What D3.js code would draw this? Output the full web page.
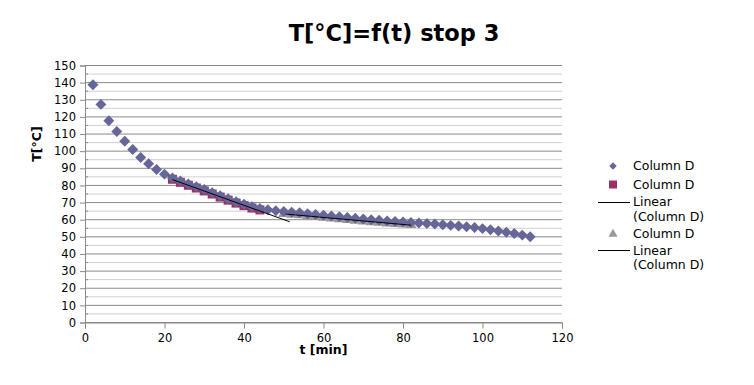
<!DOCTYPE html>
<html>
<head>
<meta charset="utf-8">
<script src="https://cdn.jsdelivr.net/npm/d3@7"></script>
<style>
  body { margin: 0; background: #fff; }
  text { font-family: "DejaVu Sans", sans-serif; fill: #000; }
</style>
</head>
<body>
<script>
// series 1: all readings (diamonds)
var timeD = [2,4,6,8,10,12,14,16,18,20,22,24,26,28,30,32,34,36,38,40,42,44,46,48,50,52,54,56,58,60,62,64,66,68,70,72,74,76,78,80,82,84,86,88,90,92,94,96,98,100,102,104,106,108,110,112];
var tempD = [138.8,127.3,117.7,111.5,105.8,101,96.3,92.6,89.3,86.6,84.3,82.6,80.9,79.3,77.6,75.8,74,72.2,70.5,69,67.6,66.5,65.8,65.2,64.8,64.4,64,63.5,63,62.6,62.2,61.7,61.3,60.8,60.4,60,59.7,59.3,59,58.7,58.4,58.1,57.8,57.5,57.1,56.7,56.3,55.9,55.4,54.8,54.1,53.4,52.7,51.9,51,50];
// series 2: first fit segment (squares)
var timeS = [22,24,26,28,30,32,34,36,38,40,42,44];
var tempS = [83.6,81.8,80.1,78.5,76.8,75,73.2,71.4,69.7,68.2,66.8,65.7];
// series 3: second fit segment (triangles)
var timeT = [50,52,54,56,58,60,62,64,66,68,70,72,74,76,78,80,82];
var tempT = [63.5,63.1,62.7,62.2,61.7,61.3,60.9,60.4,60,59.5,59.1,58.7,58.4,58,57.7,57.4,57.1];
// how far the trend lines reach (x values)
var trend1Span = [22, 51.5];
var trend2Span = [50.5, 82];

var xTicks = [0,20,40,60,80,100,120];
var yTicks = d3.range(0, 151, 10);
var yMinor = d3.range(5, 150, 10);

var W = 754, H = 385;
var pL = 85, pR = 562, pT = 65.5, pB = 322.5;

var svg = d3.select("body").append("svg")
  .attr("width", W).attr("height", H);

var x = d3.scaleLinear().domain([0,120]).range([pL, pR]);
var y = d3.scaleLinear().domain([0,150]).range([pB, pT]);

// grid
svg.append("g").selectAll("line").data(yMinor).enter().append("line")
  .attr("x1", pL).attr("x2", pR)
  .attr("y1", function(d){return y(d);}).attr("y2", function(d){return y(d);})
  .attr("stroke", "#cfcfcf").attr("stroke-width", 1);
svg.append("g").selectAll("line").data(yTicks).enter().append("line")
  .attr("x1", pL).attr("x2", pR)
  .attr("y1", function(d){return y(d);}).attr("y2", function(d){return y(d);})
  .attr("stroke", "#8a8a8a").attr("stroke-width", 1);

// axes
var yAxis = svg.append("g").attr("transform", "translate(" + pL + ",0)")
  .call(d3.axisLeft(y).tickValues(yTicks).tickSize(5).tickPadding(4));
var xAxis = svg.append("g").attr("transform", "translate(0," + pB + ")")
  .call(d3.axisBottom(x).tickValues(xTicks).tickSize(6).tickPadding(5));
[yAxis, xAxis].forEach(function(a){
  a.attr("font-size", 11.5).attr("font-family", "DejaVu Sans");
  a.select(".domain").attr("stroke", "#8a8a8a");
  a.selectAll(".tick line").attr("stroke", "#8a8a8a");
  a.selectAll("text").attr("fill", "#000");
});
// minor inner ticks on y
svg.append("g").selectAll("line").data(yMinor).enter().append("line")
  .attr("x1", pL).attr("x2", pL + 3)
  .attr("y1", function(d){return y(d);}).attr("y2", function(d){return y(d);})
  .attr("stroke", "#8a8a8a");

function diamondPath(s){ return d3.symbol().type(d3.symbolSquare).size(s)(); }

// squares
svg.append("g").selectAll("rect").data(timeS).enter().append("rect")
  .attr("x", function(d){return x(d) - 4.5;})
  .attr("y", function(d,i){return y(tempS[i]) - 4.5;})
  .attr("width", 9).attr("height", 9)
  .attr("fill", "#993366");

// triangles
svg.append("g").selectAll("path").data(timeT).enter().append("path")
  .attr("d", d3.symbol().type(d3.symbolTriangle).size(55))
  .attr("transform", function(d,i){return "translate(" + x(d) + "," + y(tempT[i]) + ")";})
  .attr("fill", "#999999");

// diamonds
svg.append("g").selectAll("path").data(timeD).enter().append("path")
  .attr("d", diamondPath(60))
  .attr("transform", function(d,i){return "translate(" + x(d) + "," + y(tempD[i]) + ") rotate(45)";})
  .attr("fill", "#666699");

// least squares trend lines
function fit(xs, ys){
  var mx = d3.mean(xs), my = d3.mean(ys);
  var sxy = d3.sum(xs, function(v,i){return (v-mx)*(ys[i]-my);});
  var sxx = d3.sum(xs, function(v){return (v-mx)*(v-mx);});
  var b = sxy/sxx;
  return function(t){ return my + b*(t-mx); };
}
var f1 = fit(timeS, tempS), f2 = fit(timeT, tempT);
[[f1, trend1Span], [f2, trend2Span]].forEach(function(p){
  svg.append("line")
    .attr("x1", x(p[1][0])).attr("y1", y(p[0](p[1][0])))
    .attr("x2", x(p[1][1])).attr("y2", y(p[0](p[1][1])))
    .attr("stroke", "#000").attr("stroke-width", 1);
});

// titles
svg.append("text").attr("x", 394).attr("y", 41).attr("text-anchor", "middle")
  .attr("font-size", 22.5).attr("font-weight", "bold").text("T[°C]=f(t) stop 3");
svg.append("text").attr("x", (pL+pR)/2).attr("y", 354).attr("text-anchor", "middle")
  .attr("font-size", 12.5).attr("font-weight", "bold").text("t [min]");
svg.append("text").attr("transform", "translate(41,144) rotate(-90)").attr("text-anchor", "middle")
  .attr("font-size", 12.5).attr("font-weight", "bold").text("T[°C]");

// legend
var lg = svg.append("g").attr("font-size", 12.5);
var lx = 613, tx = 633;
lg.append("path").attr("d", diamondPath(28))
  .attr("transform", "translate(" + lx + ",166) rotate(45)").attr("fill", "#666699");
lg.append("rect").attr("x", lx - 4).attr("y", 180.5).attr("width", 8).attr("height", 8).attr("fill", "#993366");
lg.append("line").attr("x1", 598).attr("x2", 630).attr("y1", 202.5).attr("y2", 202.5).attr("stroke", "#000");
lg.append("path").attr("d", d3.symbol().type(d3.symbolTriangle).size(36))
  .attr("transform", "translate(" + lx + ",234)").attr("fill", "#999999");
lg.append("line").attr("x1", 598).attr("x2", 630).attr("y1", 250.5).attr("y2", 250.5).attr("stroke", "#000");
var legendText = [["Column D",166],["Column D",184.5],["Linear",202],["(Column D)",216.5],["Column D",234],["Linear",250.5],["(Column D)",265]];
legendText.forEach(function(r){
  lg.append("text").attr("x", tx).attr("y", r[1]).attr("dy", "0.35em").text(r[0]);
});
</script>
</body>
</html>
